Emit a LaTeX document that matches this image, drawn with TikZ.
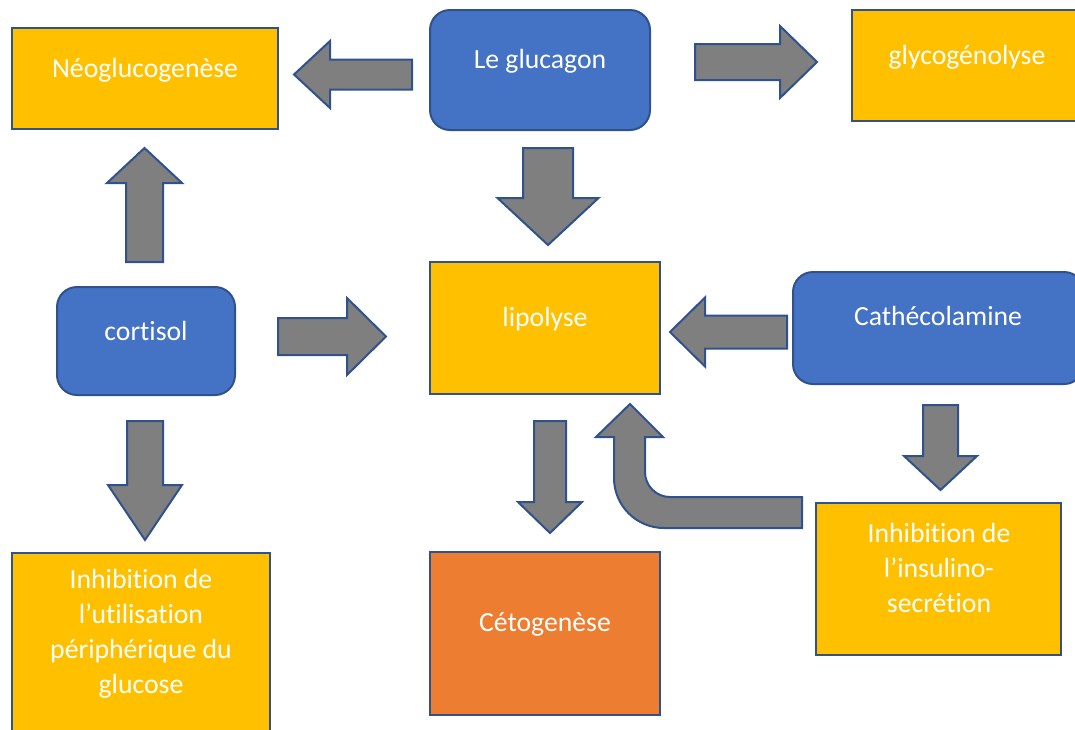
\documentclass[tikz,border=0pt]{standalone}
\usepackage{fontspec}
\setmainfont{Carlito}[Ligatures={NoCommon}]
\definecolor{gold}{HTML}{FFC000}
\definecolor{obl}{HTML}{4472C4}
\definecolor{oor}{HTML}{ED7D31}
\definecolor{edgeblue}{HTML}{2F528F}
\definecolor{arrgray}{HTML}{7F7F7F}
\tikzset{
  box/.style={draw=edgeblue, line width=2pt, rectangle, inner sep=0pt},
  yel/.style={box, fill=gold},
  bl/.style={box, fill=obl, rounded corners=20pt},
  org/.style={box, fill=oor},
  lbl/.style={text=white, font=\fontsize{27.7}{35}\selectfont, anchor=base, inner sep=0pt},
  blk/.style={draw=edgeblue, line width=2pt, fill=arrgray, line join=miter},
}
% horizontal block arrow: tail x, head-base x, tip x, centre y, shaft half width, head half width
\newcommand\hArrow[6]{%
  \draw[blk] (#1,#4-#5) -- (#2,#4-#5) -- (#2,#4-#6) -- (#3,#4) -- (#2,#4+#6) -- (#2,#4+#5) -- (#1,#4+#5) -- cycle;}
% vertical block arrow: centre x, tail y, head-base y, tip y, shaft half width, head half width
\newcommand\vArrow[6]{%
  \draw[blk] (#1-#5,#2) -- (#1-#5,#3) -- (#1-#6,#3) -- (#1,#4) -- (#1+#6,#3) -- (#1+#5,#3) -- (#1+#5,#2) -- cycle;}
\begin{document}
\begin{tikzpicture}[x=1pt,y=-1pt]
\useasboundingbox (0,0) rectangle (1075,729);
% boxes
\node[yel, minimum width=266pt, minimum height=101pt] (neo) at (145,78.5) {};
\node[bl,  minimum width=220pt, minimum height=120pt] (gluc) at (540,70) {};
\node[yel, minimum width=230pt, minimum height=111pt] (glyco) at (967,65.5) {};
\node[yel, minimum width=230pt, minimum height=132pt] (lip) at (545,328) {};
\node[bl,  minimum width=178pt, minimum height=108pt] (cort) at (146,341) {};
\node[bl,  minimum width=291pt, minimum height=112pt] (cathe) at (938.5,328) {};
\node[yel, minimum width=258pt, minimum height=187pt] (inhL) at (141,646.5) {};
\node[org, minimum width=230pt, minimum height=163pt] (ceto) at (545,633.5) {};
\node[yel, minimum width=245pt, minimum height=152pt] (inhR) at (938.5,579) {};
% labels
\node[lbl] (tneo) at (145,77) {Néoglucogenèse};
\node[lbl] (tgluc) at (540,68) {Le glucagon};
\node[lbl] (tglyco) at (967,64) {glycogénolyse};
\node[lbl] (tlip) at (545,326) {lipolyse};
\node[lbl] (tcort) at (146,340) {cortisol};
\node[lbl] (tcathe) at (938,325) {Cathécolamine};
\node[lbl] (tinhL) at (141,588) {\begin{tabular}[t]{@{}c@{}}Inhibition de\\l’utilisation\\périphérique du\\glucose\end{tabular}};
\node[lbl] (tceto) at (545,631) {Cétogenèse};
\node[lbl] (tinhR) at (939,542) {\begin{tabular}[t]{@{}c@{}}Inhibition de\\l’insulino-\\secrétion\end{tabular}};
% block arrows
\hArrow{412}{330}{294}{74.5}{15}{33.5}
\hArrow{695}{780}{817}{62}{18}{36}
\hArrow{278}{347}{386}{336.5}{18.5}{38.5}
\hArrow{787}{705}{670}{332}{16.5}{34.5}
\vArrow{144.5}{262}{183}{148}{18.5}{37.5}
\vArrow{145}{421}{485}{540}{18}{37}
\vArrow{548}{148}{198}{245}{25}{50.5}
\vArrow{550}{421}{502}{533}{16}{32}
\vArrow{940.5}{405}{456}{490}{17.5}{36.5}
% bent arrow
\draw[blk] (802,497) -- (670,497) .. controls (656.2,497) and (645,485.8) .. (645,472)
  -- (645,437) -- (663,437) -- (630,404) -- (596,437) -- (614,437) -- (614,478)
  .. controls (614,505.6) and (636.4,528) .. (664,528) -- (802,528) -- cycle;
\end{tikzpicture}
\end{document}
